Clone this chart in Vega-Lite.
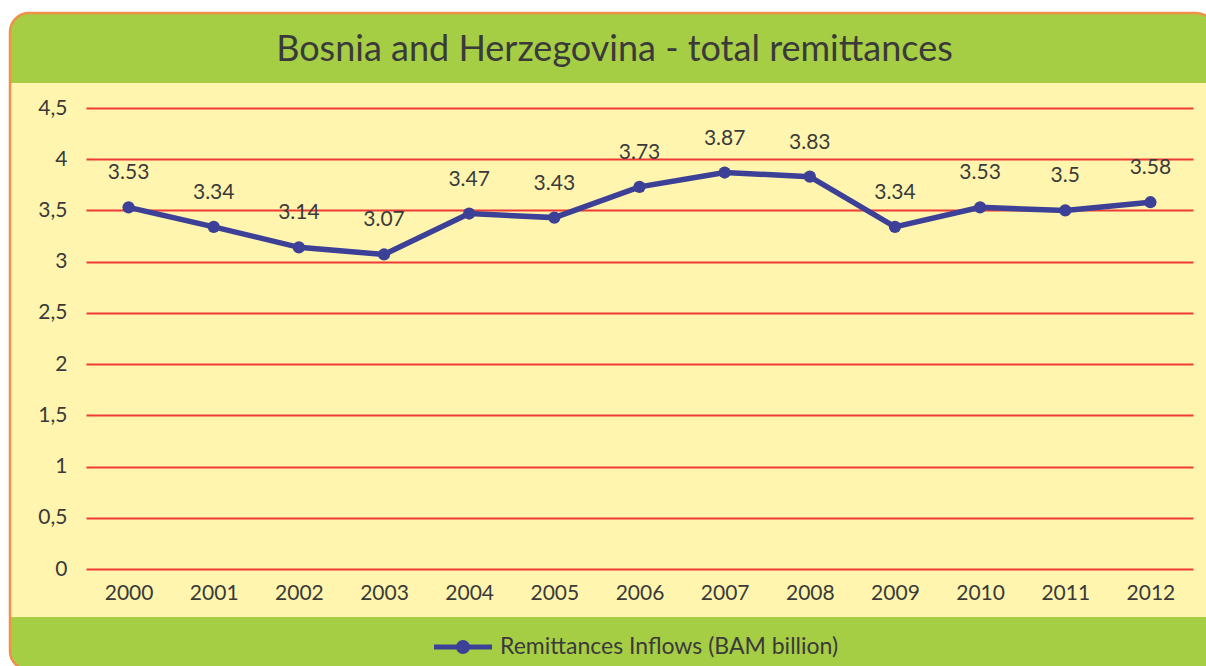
{
  "$schema": "https://vega.github.io/schema/vega-lite/v6.json",
  "autosize": "none",
  "width": 1107,
  "height": 461,
  "padding": {"left": 86, "top": 108, "right": 13, "bottom": 97},
  "background": "#FFF5AE",
  "config": {
    "view": {"stroke": null},
    "font": "Lato",
    "axis": {"labelFont": "Lato", "labelColor": "#3a3a3a", "labelFontSize": 21, "domain": false, "ticks": false}
  },
  "title": {
    "text": "Bosnia and Herzegovina - total remittances",
    "font": "Lato",
    "fontSize": 36,
    "fontWeight": "normal",
    "color": "#3a3a3a",
    "anchor": "middle",
    "dx": -25,
    "offset": -96
  },
  "layer": [
    {
      "data": {"values": [{"part": "header"}]},
      "mark": {"type": "rect", "fill": "#A6CE45", "clip": false},
      "encoding": {
        "x": {"datum": 1998.6075, "type": "quantitative", "scale": {"domain": [1999.5, 2012.5], "nice": false, "zero": false}},
        "x2": {"datum": 2012.7583},
        "y": {"datum": 4.744, "type": "quantitative", "scale": {"domain": [0, 4.5], "nice": false}},
        "y2": {"datum": 5.4274}
      }
    },
    {
      "data": {"values": [{"part": "footer"}]},
      "mark": {"type": "rect", "fill": "#A6CE45", "clip": false},
      "encoding": {
        "x": {"datum": 1998.6075, "type": "quantitative"},
        "x2": {"datum": 2012.7583},
        "y": {"datum": -0.4686, "type": "quantitative"},
        "y2": {"datum": -0.9859}
      }
    },
    {
      "data": {"values": [{"part": "margin"}]},
      "mark": {"type": "rect", "fillOpacity": 0, "stroke": "#ffffff", "strokeWidth": 40, "cornerRadius": 39, "clip": false},
      "encoding": {
        "x": {"datum": 1998.3726, "type": "quantitative"},
        "x2": {"datum": 2012.9932},
        "y": {"datum": 5.6226, "type": "quantitative"},
        "y2": {"datum": -1.1811}
      }
    },
    {
      "data": {"values": [{"part": "border"}]},
      "mark": {"type": "rect", "fillOpacity": 0, "stroke": "#F0904A", "strokeWidth": 2.5, "cornerRadius": 19, "clip": false},
      "encoding": {
        "x": {"datum": 1998.6075, "type": "quantitative"},
        "x2": {"datum": 2012.7583},
        "y": {"datum": 5.4274, "type": "quantitative"},
        "y2": {"datum": -0.9859}
      }
    },
    {
      "data": {"name": "remit", "values": [
        {"year": 2000, "value": 3.53, "series": "Remittances Inflows (BAM billion)"},
        {"year": 2001, "value": 3.34, "series": "Remittances Inflows (BAM billion)"},
        {"year": 2002, "value": 3.14, "series": "Remittances Inflows (BAM billion)"},
        {"year": 2003, "value": 3.07, "series": "Remittances Inflows (BAM billion)"},
        {"year": 2004, "value": 3.47, "series": "Remittances Inflows (BAM billion)"},
        {"year": 2005, "value": 3.43, "series": "Remittances Inflows (BAM billion)"},
        {"year": 2006, "value": 3.73, "series": "Remittances Inflows (BAM billion)"},
        {"year": 2007, "value": 3.87, "series": "Remittances Inflows (BAM billion)"},
        {"year": 2008, "value": 3.83, "series": "Remittances Inflows (BAM billion)"},
        {"year": 2009, "value": 3.34, "series": "Remittances Inflows (BAM billion)"},
        {"year": 2010, "value": 3.53, "series": "Remittances Inflows (BAM billion)"},
        {"year": 2011, "value": 3.5, "series": "Remittances Inflows (BAM billion)"},
        {"year": 2012, "value": 3.58, "series": "Remittances Inflows (BAM billion)"}
      ]},
      "encoding": {
        "x": {
          "field": "year", "type": "quantitative", "title": null,
          "scale": {"domain": [1999.5, 2012.5], "nice": false, "zero": false},
          "axis": {"values": [2000, 2001, 2002, 2003, 2004, 2005, 2006, 2007, 2008, 2009, 2010, 2011, 2012], "format": "d", "grid": false, "labelPadding": 13, "labelFlush": false}
        },
        "y": {
          "field": "value", "type": "quantitative", "title": null,
          "scale": {"domain": [0, 4.5], "nice": false},
          "axis": {"values": [0, 0.5, 1, 1.5, 2, 2.5, 3, 3.5, 4, 4.5], "labelExpr": "replace(format(datum.value, '~g'), '.', ',')", "grid": true, "gridColor": "#EE3B36", "gridWidth": 2, "labelPadding": 19}
        }
      },
      "layer": [
        {
          "mark": {"type": "line", "strokeWidth": 5.5},
          "encoding": {
            "color": {
              "field": "series", "type": "nominal", "title": null,
              "scale": {"range": ["#3c4096"]},
              "legend": {
                "orient": "none", "legendX": 348, "legendY": 510,
                "labelFont": "Lato", "labelFontSize": 23, "labelColor": "#3a3a3a", "labelOffset": 8,
                "symbolSize": 3364, "labelLimit": 600,
                "encode": {"symbols": {"update": {
                  "fill": {"value": "#3c4096"}, "stroke": {"value": "transparent"}, "strokeWidth": {"value": 0},
                  "shape": {"value": "M-1,-0.09L1,-0.09L1,0.09L-1,0.09Z M-0.24,0A0.24,0.24 0 1,1 0.24,0A0.24,0.24 0 1,1 -0.24,0Z"},
                  "size": {"value": 3364}, "opacity": {"value": 1}
                }}}
              }
            }
          }
        },
        {
          "mark": {"type": "point", "filled": true, "size": 150, "opacity": 1, "color": "#3c4096"}
        },
        {
          "mark": {"type": "text", "dy": -34, "font": "Lato", "fontSize": 21, "color": "#3a3a3a"},
          "encoding": {"text": {"field": "value", "type": "quantitative", "format": ".2~f"}}
        }
      ]
    }
  ]
}
